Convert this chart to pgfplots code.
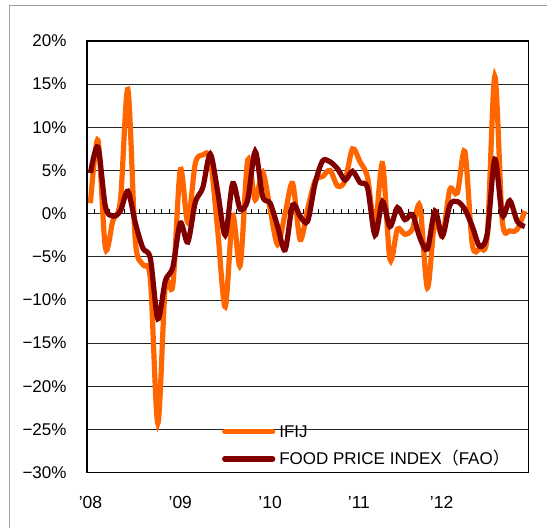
\documentclass[border=0pt]{standalone}
\usepackage{fontspec}
\setmainfont{Liberation Sans}
\newfontfamily\cjk{Noto Sans CJK JP}
\usepackage{pgfplots}
\usepackage{pgfplotstable}
\pgfplotsset{compat=1.18}
\definecolor{ifij}{RGB}{255,102,0}
\definecolor{fao}{RGB}{128,0,0}
\pgfplotstableread{
k ifij fao
0 1.2 4.7
1 8.5 7.7
2 -4.0 0.8
3 -0.8 -0.3
4 1.5 0.3
5 14.4 2.6
6 -3.2 -1.1
7 -5.9 -4.0
8 -7.6 -5.2
9 -24.3 -12.2
10 -8.4 -7.8
11 -8.3 -6.2
12 5.1 -1.1
13 -1.0 -3.3
14 5.8 1.3
15 6.8 3.0
16 6.3 6.9
17 -2.0 2.5
18 -10.8 -2.5
19 -0.3 3.5
20 -6.0 0.5
21 6.2 1.6
22 1.6 7.2
23 4.8 2.0
24 0.5 1.2
25 -3.6 -1.5
26 0.0 -4.2
27 3.5 1.0
28 -3.0 -0.3
29 0.5 -0.9
30 3.8 3.5
31 4.3 6.1
32 5.0 6.0
33 3.2 5.2
34 3.8 3.9
35 7.5 4.9
36 6.0 3.6
37 4.2 3.0
38 -1.5 -2.5
39 5.8 1.4
40 -5.3 -1.5
41 -1.8 0.7
42 -2.4 -0.7
43 -1.8 -0.1
44 0.9 -2.8
45 -8.6 -4.1
46 -0.7 0.3
47 -2.6 -2.6
48 2.8 1.0
49 2.4 1.4
50 7.2 0.5
51 -3.6 -1.5
52 -4.0 -3.8
53 -2.5 -2.3
54 15.9 6.3
55 -0.8 -0.2
56 -2.0 1.5
57 -1.8 -0.9
58 0.3 -1.5
}\datatable
\newcommand{\tfont}{\fontsize{17}{19}\selectfont}
\newcommand{\xfont}{\fontsize{17.5}{19}\selectfont}
\begin{document}
\begin{tikzpicture}[x=1pt,y=1pt]
\useasboundingbox (0,0) rectangle (547,528);
\draw[gray!75, line width=1pt] (9.5,-5) -- (9.5,522) -- (560,522);
\begin{axis}[
  at={(86.7pt,55.5pt)}, anchor=south west,
  scale only axis, width=441.8pt, height=431.5pt,
  xmin=-0.5, xmax=58.5, ymin=-30, ymax=20,
  axis line style={line width=1.8pt},
  ytick={-30,-25,...,20},
  yticklabels={−30\%,−25\%,−20\%,−15\%,−10\%,−5\%,0\%,5\%,10\%,15\%,20\%},
  ymajorgrids, grid style={black!85, line width=0.8pt},
  ytick style={draw=none},
  yticklabel style={inner sep=0pt, anchor=east, xshift=-20pt, font=\tfont},
  xtick={0,12,24,35.85,46.9},
  xticklabels={’08,’09,’10,’11,’12},
  xtick style={draw=none},
  xticklabel style={inner sep=0pt, anchor=base, yshift=-35.5pt, font=\xfont},
  legend style={at={(axis description cs:0.306,0.063)}, anchor=west,
    draw=none, fill=none, inner sep=0pt, row sep=15.5pt, column sep=4pt,
    font=\tfont, nodes={inner sep=0pt, text height=11.8pt, text depth=0pt}},
  legend cell align=left,
  legend image code/.code={\draw[#1, line cap=round] (2.5pt,0pt) -- (50.5pt,0pt);},
]
\pgfplotsinvokeforeach{0.5,1.5,...,57.5}{\draw[black, line width=0.9pt] (axis cs:#1,0) -- ++(0pt,5pt);}
\addplot[ifij, line width=5.2pt, smooth, tension=0.5] table[x=k, y=ifij] {\datatable};
\addlegendentry{IFIJ}
\addplot[fao, line width=5.2pt, smooth, tension=0.5] table[x=k, y=fao] {\datatable};
\addlegendentry{FOOD PRICE INDEX{\cjk （}FAO{\cjk ）}}
\end{axis}
\end{tikzpicture}
\end{document}
